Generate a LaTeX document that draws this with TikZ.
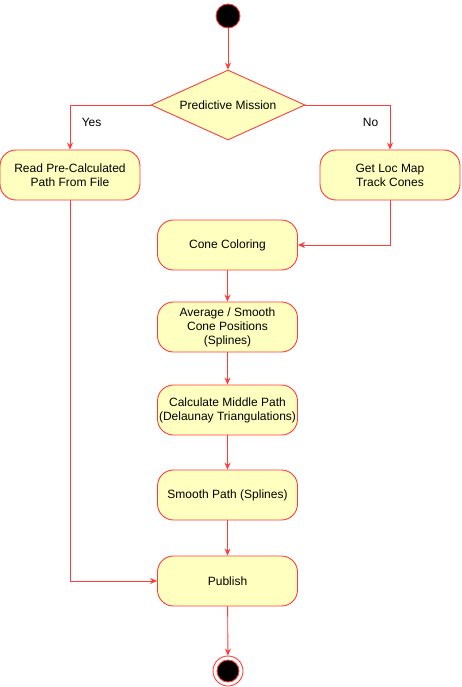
\documentclass[tikz,border=0pt]{standalone}
\usepackage{fontspec}
\setmainfont{Liberation Sans}
\usepackage{tikz}
\usetikzlibrary{shapes.geometric,arrows.meta}

\definecolor{actred}{RGB}{255,60,60}
\definecolor{actfill}{RGB}{255,255,192}

\begin{document}
\begin{tikzpicture}[x=1pt,y=-1pt,line width=0.9pt,
		font=\fontsize{12}{14}\selectfont,
		act/.style={draw=actred,fill=actfill,rounded corners=16pt,minimum width=140pt,minimum height=50pt,inner sep=0pt,align=center},
		decide/.style={diamond,draw=actred,fill=actfill,minimum width=154pt,minimum height=70pt,aspect=2.2,inner sep=0pt},
		flow/.style={draw=actred,-{Stealth[length=7pt,width=6pt]}}]
			\useasboundingbox (0,0) rectangle (461,687);
			\node[circle,draw=actred,fill=black,minimum size=24pt,inner sep=0pt] (start) at (228,16) {};
			\node[decide] (mission) at (228,105) {Predictive Mission};
			\node[act] (readpath) at (70,175) {Read Pre-Calculated\\Path From File};
			\node[act] (locmap) at (390,175) {Get Loc Map\\Track Cones};
			\node[act] (coloring) at (227.5,245) {Cone Coloring};
			\node[act] (smoothcones) at (227.5,327) {Average / Smooth\\Cone Positions\\(Splines)};
			\node[act] (middle) at (227.5,410) {Calculate Middle Path\\(Delaunay Triangulations)};
			\node[act] (smoothpath) at (227.5,495) {Smooth Path (Splines)};
			\node[act] (publish) at (227.5,581) {Publish};
			\node[circle,draw=actred,fill=white,minimum size=30pt,inner sep=0pt] (stop) at (228,671) {};
			\node[circle,draw=actred,fill=black,minimum size=22pt,inner sep=0pt] at (stop) {};
			\draw[flow] (start) -- (mission);
			\draw[flow] (mission.west) -| (readpath.north) node[pos=0.7,right=8pt] {Yes};
			\draw[flow] (mission.east) -| (locmap.north) node[pos=0.7,left=8pt] {No};
			\draw[flow] (locmap.south) |- (coloring.east);
			\draw[flow] (coloring) -- (smoothcones);
			\draw[flow] (smoothcones) -- (middle);
			\draw[flow] (middle) -- (smoothpath);
			\draw[flow] (smoothpath) -- (publish);
			\draw[flow] (readpath.south) |- (publish.west);
			\draw[flow] (publish) -- (stop);
		\end{tikzpicture}
\end{document}
